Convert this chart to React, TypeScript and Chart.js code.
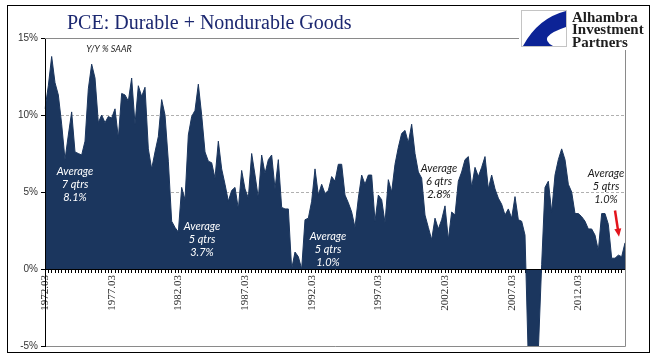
import React, { useEffect, useRef } from 'react';
import { Chart, registerables } from 'chart.js';

Chart.register(...registerables);

// ---- data ----
const quarterMonths = ['03', '06', '09', '12'];
const categories: string[] = [];
for (let yr = 1972; yr <= 2015; yr++) {
  for (const m of quarterMonths) categories.push(`${yr}.${m}`);
}
categories.length = 175; // 1972.03 .. 2015.09

const tickLabels = ['1972.03', '1977.03', '1982.03', '1987.03', '1992.03', '1997.03', '2002.03', '2007.03', '2012.03'];

// PCE durable + nondurable goods, Y/Y %
const pceGoodsYoY = [
  10.4, 11.9, 13.8, 12.1, 11.3, 9.4, 7.1, 8.7, 10.2, 7.6,
  7.5, 7.4, 8.3, 11.7, 13.3, 12.4, 9.5, 10.0, 9.5, 9.9,
  9.8, 10.4, 8.5, 11.4, 11.3, 10.9, 12.4, 9.4, 11.9, 11.2,
  11.8, 7.8, 6.5, 7.6, 8.6, 11.0, 10.0, 7.0, 3.1, 2.7,
  2.4, 5.3, 4.5, 8.7, 9.9, 10.3, 12.0, 10.0, 7.6, 7.0,
  6.9, 5.9, 8.3, 6.5, 5.5, 4.4, 5.1, 5.3, 3.9, 6.4,
  5.2, 4.6, 7.5, 6.1, 4.6, 7.4, 6.2, 7.1, 7.4, 5.2,
  7.1, 4.0, 3.9, 3.9, 0.0, 1.1, 0.8, 0.0, 3.2, 3.3,
  4.4, 6.5, 4.8, 5.5, 4.9, 5.1, 6.0, 5.7, 6.8, 6.8,
  4.8, 4.3, 3.7, 2.7, 4.6, 6.1, 5.5, 6.1, 6.1, 3.1,
  4.8, 4.5, 3.0, 5.8, 5.0, 6.8, 7.9, 8.8, 9.0, 8.2,
  9.4, 7.5, 6.3, 5.9, 3.5, 2.7, 1.9, 3.3, 2.6, 3.2,
  4.1, 1.9, 3.7, 3.5, 5.7, 6.3, 7.1, 7.3, 5.3, 6.6,
  6.0, 6.6, 7.3, 5.2, 6.1, 5.2, 4.6, 4.2, 3.5, 3.9,
  3.3, 4.7, 3.2, 3.1, 2.2, -6.0, -6.5, -6.3, -5.3, 0.3,
  5.3, 5.7, 3.7, 6.1, 7.1, 7.8, 7.1, 5.5, 5.0, 3.6,
  3.6, 3.4, 3.1, 2.6, 2.6, 2.2, 1.2, 3.6, 3.6, 2.9,
  0.7, 0.7, 0.9, 0.8, 1.7,
];

const yMin = -5;
const yMax = 15;
const yStep = 5;
const dashedGridValues = [5, 10];

const noteIndex = [9.0, 47.1, 84.9, 118.2, 168.3];
const noteValue = [6.36, 2.79, 2.14, 6.56, 6.23];
const noteQtrs = ['7 qtrs', '5 qtrs', '5 qtrs', '6 qtrs', '5 qtrs'];
const noteAvg = ['8.1%', '3.7%', '1.0%', '2.8%', '1.0%'];
const noteOnDark = [true, true, true, false, false];

const arrowFrom = { index: 171.0, value: 3.8 };
const arrowTo = { index: 172.2, value: 2.1 };
const unitNote = { index: 19.2, value: 14.3, text: 'Y/Y % SAAR' };

const titleText = 'PCE: Durable + Nondurable Goods';
const logoLines = ['Alhambra', 'Investment', 'Partners'];

const FILL = '#1b365e';

const decorPlugin = {
  id: 'decor',
  beforeDraw(chart: any) {
    const { ctx, width, height } = chart;
    ctx.save();
    ctx.fillStyle = '#ffffff';
    ctx.fillRect(0, 0, width, height);
    ctx.restore();
  },
  afterDraw(chart: any) {
    const { ctx, chartArea: a, scales } = chart;
    const xs = scales.x;
    const ys = scales.y;
    ctx.save();

    // plot-area frame (grey)
    ctx.strokeStyle = '#8a8a8a';
    ctx.lineWidth = 1;
    const top = Math.round(a.top) + 0.5;
    const bottom = Math.round(a.bottom) + 0.5;
    const right = Math.round(a.right) + 0.5;
    ctx.beginPath();
    ctx.moveTo(a.left, top);
    ctx.lineTo(519, top);
    ctx.moveTo(right, 50);
    ctx.lineTo(right, bottom);
    ctx.lineTo(a.left + 1, bottom);
    ctx.stroke();

    // outer black frame
    ctx.strokeStyle = '#000';
    ctx.strokeRect(7.5, 5.5, 642, 347);

    // title
    ctx.fillStyle = '#1b2770';
    ctx.font = '20px "Liberation Serif"';
    ctx.textAlign = 'left';
    ctx.textBaseline = 'alphabetic';
    ctx.fillText(titleText, 67, 29);

    // logo
    ctx.fillStyle = '#fff';
    ctx.fillRect(521, 10, 46, 37);
    ctx.strokeStyle = '#c4c4c4';
    ctx.strokeRect(521.5, 10.5, 45, 36);
    ctx.fillStyle = '#0c2396';
    ctx.beginPath();
    ctx.moveTo(566, 11);
    ctx.quadraticCurveTo(538, 18, 523, 46);
    ctx.lineTo(553, 46);
    ctx.quadraticCurveTo(536, 37, 566, 27);
    ctx.closePath();
    ctx.fill();
    ctx.fillStyle = '#1e1e1e';
    ctx.font = 'bold 15px "Liberation Serif"';
    logoLines.forEach((t, k) => ctx.fillText(t, 572, 21.5 + k * 12.5));

    // unit note
    ctx.fillStyle = '#222';
    ctx.font = 'italic 9px Lato';
    ctx.textAlign = 'center';
    ctx.textBaseline = 'middle';
    ctx.fillText(unitNote.text, xs.getPixelForValue(unitNote.index), ys.getPixelForValue(unitNote.value));

    // average notes
    ctx.font = 'italic 11px Lato';
    noteIndex.forEach((idx, k) => {
      const px = xs.getPixelForValue(idx);
      const py = ys.getPixelForValue(noteValue[k]);
      ctx.fillStyle = noteOnDark[k] ? '#ffffff' : '#1a1a1a';
      ['Average', noteQtrs[k], noteAvg[k]].forEach((t, j) => ctx.fillText(t, px, py + j * 13));
    });

    // red arrow
    const x1 = xs.getPixelForValue(arrowFrom.index);
    const y1 = ys.getPixelForValue(arrowFrom.value);
    const x2 = xs.getPixelForValue(arrowTo.index);
    const y2 = ys.getPixelForValue(arrowTo.value);
    const ang = Math.atan2(y2 - y1, x2 - x1);
    const head = 8;
    ctx.strokeStyle = '#e3141c';
    ctx.fillStyle = '#e3141c';
    ctx.lineWidth = 2.5;
    ctx.beginPath();
    ctx.moveTo(x1, y1);
    ctx.lineTo(x2 - Math.cos(ang) * head * 0.8, y2 - Math.sin(ang) * head * 0.8);
    ctx.stroke();
    ctx.beginPath();
    ctx.moveTo(x2, y2);
    ctx.lineTo(x2 - Math.cos(ang) * head + Math.sin(ang) * 3.5, y2 - Math.sin(ang) * head - Math.cos(ang) * 3.5);
    ctx.lineTo(x2 - Math.cos(ang) * head - Math.sin(ang) * 3.5, y2 - Math.sin(ang) * head + Math.cos(ang) * 3.5);
    ctx.closePath();
    ctx.fill();

    ctx.restore();
  },
};

export default function App() {
  const ref = useRef<HTMLCanvasElement | null>(null);

  useEffect(() => {
    document.body.style.margin = '0';
    if (!ref.current) return;
    const chart = new Chart(ref.current, {
      type: 'line',
      data: {
        labels: categories,
        datasets: [
          {
            data: pceGoodsYoY,
            fill: 'origin',
            backgroundColor: FILL,
            borderColor: FILL,
            borderWidth: 1,
            pointRadius: 0,
            tension: 0,
          },
        ],
      },
      options: {
        animation: false,
        responsive: false,
        devicePixelRatio: 1,
        layout: { padding: { left: 0, top: 38, right: 33, bottom: 12 } },
        plugins: { legend: { display: false }, tooltip: { enabled: false }, title: { display: false } },
        scales: {
          x: {
            type: 'category',
            position: { y: 0 } as any,
            offset: false,
            grid: { drawOnChartArea: false, drawTicks: true, tickLength: 3, tickColor: '#000' },
            border: { display: true, color: '#000', width: 1, z: 1 },
            ticks: {
              autoSkip: false,
              minRotation: 90,
              maxRotation: 90,
              padding: 3,
              color: '#2a2a2a',
              font: { family: '"Liberation Serif"', size: 11 },
              callback: function (this: any, value: any) {
                const lab = this.getLabelForValue(value);
                return tickLabels.includes(lab) ? lab : '';
              },
            },
          },
          y: {
            min: yMin,
            max: yMax,
            afterFit: (scale: any) => {
              scale.width = 45;
            },
            grid: {
              color: (ctx: any) => (dashedGridValues.includes(ctx.tick?.value) ? '#b0b0b0' : 'rgba(0,0,0,0)'),
              tickColor: '#000',
              tickLength: 4,
            },
            border: { display: true, color: '#000', width: 1, dash: [3, 2], z: 1 },
            ticks: {
              stepSize: yStep,
              padding: 3,
              color: '#333',
              font: { family: '"Liberation Sans"', size: 10 },
              callback: (v: any) => `${v}%`,
            },
          },
        },
      },
      plugins: [decorPlugin],
    });
    return () => chart.destroy();
  }, []);

  return (
    <div style={{ width: 658, height: 358 }}>
      <canvas ref={ref} width={658} height={358} style={{ display: 'block' }} />
    </div>
  );
}
